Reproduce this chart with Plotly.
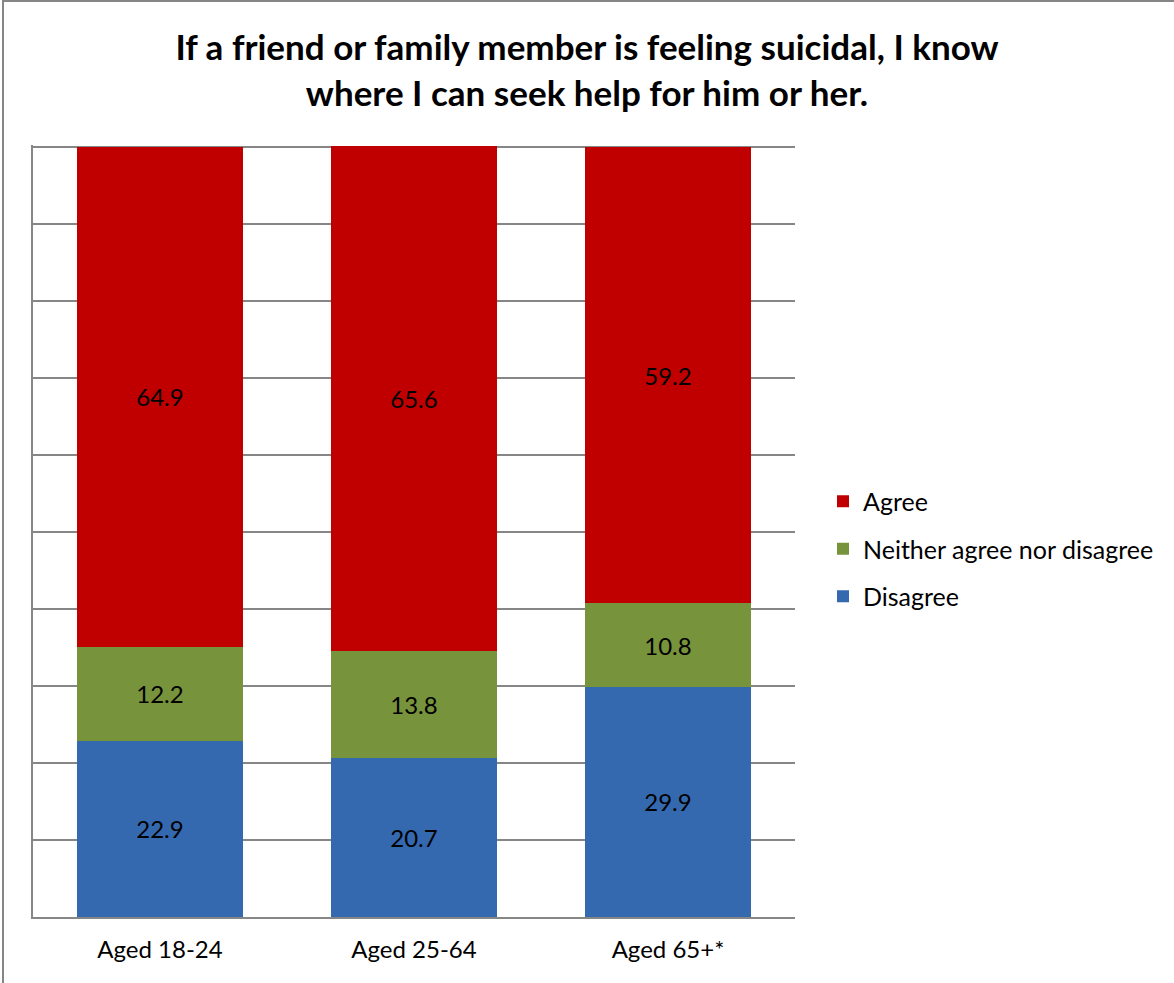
import plotly.graph_objects as go

categories = ["Aged 18-24", "Aged 25-64", "Aged 65+*"]
disagree = [22.9, 20.7, 29.9]
neither = [12.2, 13.8, 10.8]
agree = [64.9, 65.6, 59.2]
title_text = "If a friend or family member is feeling suicidal, I know<br>where I can seek help for him or her."

FONT = "Lato"
W, H = 1174, 983
ML, MR, MT, MB = 33, 379, 145, 66

series = [
    ("Disagree", disagree, "#3469b0", 3),
    ("Neither agree nor disagree", neither, "#77933c", 2),
    ("Agree", agree, "#c00000", 1),
]

fig = go.Figure()
for name, vals, col, rank in series:
    fig.add_trace(go.Bar(
        x=categories, y=vals, name=name, legendgroup=name, legendrank=rank,
        marker=dict(color=col, line=dict(width=0)),
        text=[f"{v:.1f}" for v in vals],
        textposition="inside", insidetextanchor="middle",
        textfont=dict(color="black", size=24, family=FONT),
        constraintext="none",
        width=0.65,
    ))

pw = W - ML - MR
ph = H - MT - MB

fig.update_layout(
    width=W, height=H,
    margin=dict(l=ML, r=MR, t=MT, b=MB),
    barmode="stack",
    plot_bgcolor="white", paper_bgcolor="white",
    title=dict(text=title_text, x=0.5, xanchor="center", y=1 - 60 / H, yanchor="middle",
               font=dict(family=FONT, size=35, color="black", weight="bold")),
    font=dict(family=FONT, color="black"),
    legend=dict(x=(823 - ML) / pw, xanchor="left", y=(H - MB - 549) / ph, yanchor="middle",
                traceorder="grouped", tracegroupgap=12,
                font=dict(size=25, family=FONT, color="black")),
    showlegend=True,
    shapes=[
        dict(type="line", xref="paper", yref="paper",
             x0=(3 - ML) / pw, x1=(3 - ML) / pw,
             y0=(H - MB - H) / ph, y1=(H - MB - 1) / ph,
             line=dict(color="#868686", width=2)),
        dict(type="line", xref="paper", yref="paper",
             x0=(2 - ML) / pw, x1=(W - ML) / pw,
             y0=(H - MB - 1) / ph, y1=(H - MB - 1) / ph,
             line=dict(color="#868686", width=2)),
    ],
)
fig.update_xaxes(showline=True, linecolor="#868686", linewidth=2, ticks="",
                 ticklabelstandoff=10,
                 tickfont=dict(size=24, family=FONT, color="black"), showgrid=False)
fig.update_yaxes(range=[0, 100.2], tick0=0, dtick=10, showticklabels=False, showgrid=True,
                 gridcolor="#868686", gridwidth=2, showline=True, linecolor="#868686",
                 linewidth=2, zeroline=False, ticks="")

fig.write_html("out.html", config={"displayModeBar": False},
               post_script="document.body.style.margin='0';document.body.style.overflow='hidden';")
